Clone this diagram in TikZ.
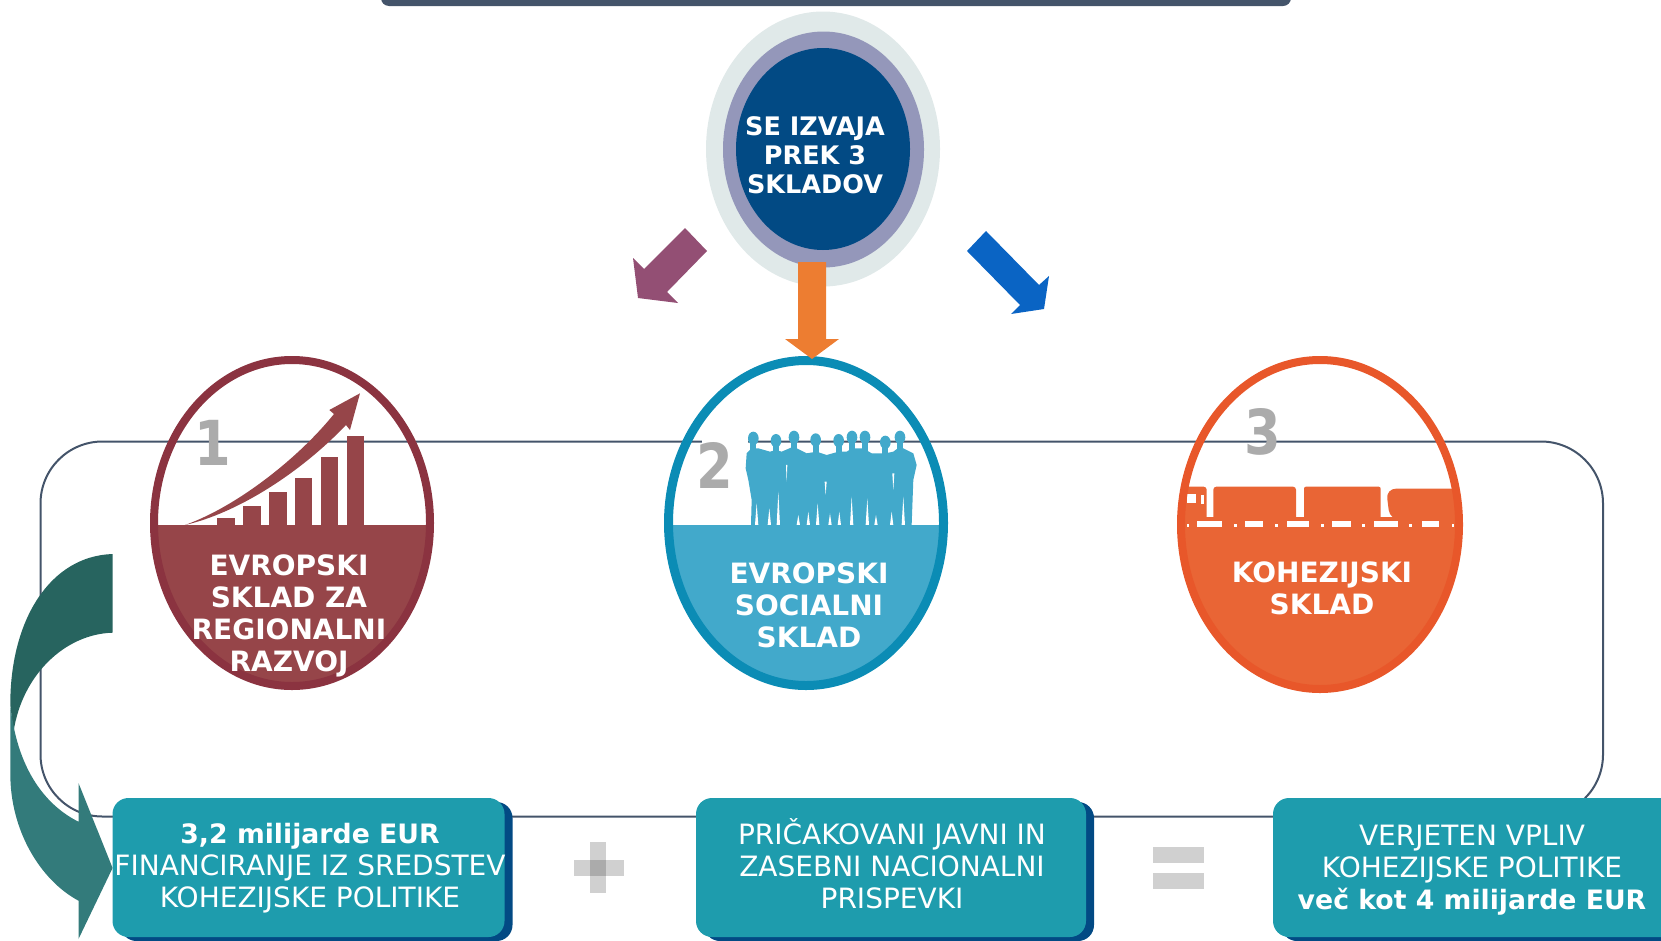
\documentclass[tikz,border=0pt]{standalone}
\usepackage{fontspec}
\setmainfont{DejaVu Sans}
\usetikzlibrary{shadows}
\definecolor{slateline}{HTML}{44546A}
\definecolor{haloouter}{HTML}{E0E9E9}
\definecolor{halomiddle}{HTML}{9497BA}
\definecolor{navyfill}{HTML}{024A84}
\definecolor{wineline}{HTML}{8B3340}
\definecolor{winefill}{HTML}{964549}
\definecolor{skyline}{HTML}{0B8CB5}
\definecolor{skyfill}{HTML}{42A9CB}
\definecolor{rustline}{HTML}{E8572A}
\definecolor{rustfill}{HTML}{E96535}
\definecolor{tealbox}{HTML}{1E9CAD}
\definecolor{numgray}{HTML}{ABABAB}
\definecolor{signgray}{HTML}{D0D0D0}
\definecolor{darkbend}{HTML}{27645F}
\definecolor{lightbend}{HTML}{337B7B}
\definecolor{plumarrow}{HTML}{934F74}
\definecolor{bluearrow}{HTML}{0A64C4}
\definecolor{orangearrow}{HTML}{ED7D31}
\tikzset{
    headtext/.style={text=white, align=center, font=\bfseries\fontsize{25.5}{29}\selectfont},
    fundtext/.style={text=white, align=center, font=\bfseries\fontsize{28}{32}\selectfont},
    sumtext/.style={text=white, align=center, font=\fontsize{28}{32}\selectfont},
    numtext/.style={text=numgray, xscale=0.85, transform shape, font=\bfseries\fontsize{62}{62}\selectfont},
    sumbox/.style={fill=tealbox, rounded corners=16pt, minimum height=139pt, inner sep=0pt,
        drop shadow={shadow xshift=8pt, shadow yshift=-4pt, fill=navyfill, opacity=1}}
}
\newcommand{\boldline}[1]{{\bfseries\fontsize{26.7}{32}\selectfont #1}}

\begin{document}
\begin{tikzpicture}[x=1pt, y=-1pt]
    \clip (0, 0) rectangle (1661, 940);

    \fill[slateline, rounded corners=8pt] (381, -20) rectangle (1291, 6);

    \draw[slateline, line width=2pt, rounded corners=62pt] (40.5, 441.5) rectangle (1603, 816.5);
    \fill[white] (702, 436) rectangle (748, 447);

    \fill[haloouter] (823, 149) ellipse (117 and 137.5);
    \fill[halomiddle] (823.5, 149.5) ellipse (100.5 and 118);
    \fill[navyfill] (823, 149) ellipse (87 and 101);
    \node[headtext] (headlabel) at (815, 155.5) {SE IZVAJA\\PREK 3\\SKLADOV};

    \fill[plumarrow] (685, 228) -- (707, 251) -- (667, 292) -- (678, 303)
        -- (638, 298) -- (633, 258) -- (644, 269) -- cycle;
    \fill[bluearrow] (986, 231) -- (967, 251) -- (1020, 305) -- (1011, 314)
        -- (1044, 309) -- (1049, 276) -- (1039, 285) -- cycle;

    % first fund
    \begin{scope}
        \clip (292, 523) ellipse (138 and 163);
        \fill[winefill] (140, 525) rectangle (440, 700);
    \end{scope}
    \draw[wineline, line width=8pt] (292, 523) ellipse (138 and 163);
    \begin{scope}[shift={(130, 340)}, x=0.3333pt, y=-0.3333pt]
        \foreach \barx/\bartop in {262/535, 340/498, 418/457, 494/415, 572/350, 650/288}
            \fill[winefill] (\barx, \bartop) rectangle ({\barx + 53}, 556);
        \fill[winefill] (165, 555) .. controls (320, 520) and (510, 400) .. (648, 255) -- (660, 270)
            -- (690, 160) -- (598, 210) -- (612, 222) .. controls (505, 355) and (320, 500) .. (165, 555) -- cycle;
    \end{scope}
    \node[numtext] (numone) at (213, 443) {1};
    \node[fundtext] (fundone) at (289, 615.5) {EVROPSKI\\SKLAD ZA\\REGIONALNI\\RAZVOJ};

    % second fund
    \begin{scope}
        \clip (806, 523) ellipse (137.5 and 162.5);
        \fill[skyfill] (660, 525) rectangle (950, 700);
    \end{scope}
    \draw[skyline, line width=9pt] (806, 523) ellipse (137.5 and 162.5);
    \begin{scope}[shift={(650, 340)}, x=0.3333pt, y=-0.3333pt]
        \foreach \headx/\heady in {310/295, 378/302, 432/292, 497/300, 566/302, 606/292, 645/292, 706/307, 750/292} {
            \fill[skyfill] (\headx, \heady) ellipse (16 and 20);
            \fill[skyfill] ({\headx - 9}, \heady) rectangle ({\headx + 9}, {\heady + 45});
        }
        \fill[skyfill] (303, 556) -- (305, 480) -- (295, 420) -- (287, 385) -- (290, 340) -- (305, 325) -- (325, 325)
            -- (360, 335) -- (378, 330) -- (395, 335) -- (430, 320) -- (470, 340) -- (500, 335) -- (530, 345)
            -- (566, 335) -- (590, 335) -- (606, 325) -- (640, 325) -- (665, 340) -- (706, 340) -- (730, 335)
            -- (750, 320) -- (790, 340) -- (800, 375) -- (790, 420) -- (785, 556) -- cycle;
        \foreach \gapx/\gaptop in {320/490, 358/505, 385/455, 445/525, 475/515, 503/490, 540/520, 568/515, 605/470, 652/475, 678/525, 725/515, 760/470}
            \fill[white] ({\gapx - 5}, 555) -- (\gapx, \gaptop) -- ({\gapx + 5}, 555) -- cycle;
        \fill[white] (408, 375) -- (412, 375) -- (410, 425) -- cycle;
        \fill[white] (524, 425) -- (530, 425) -- (527, 465) -- cycle;
        \fill[white] (727, 400) -- (733, 400) -- (730, 450) -- cycle;
    \end{scope}
    \node[numtext] (numtwo) at (715, 465) {2};
    \node[fundtext] (fundtwo) at (809, 605.5) {EVROPSKI\\SOCIALNI\\SKLAD};

    % third fund
    \begin{scope}
        \clip (1320, 524.5) ellipse (139 and 164.5);
        \fill[rustfill] (1170, 517) rectangle (1470, 700);
        \begin{scope}[shift={(1160, 340)}, x=0.3333pt, y=-0.3333pt]
            \fill[rustfill, rounded corners=3pt] (60, 440) rectangle (140, 540);
            \fill[rustfill, rounded corners=3pt] (160, 440) rectangle (408, 540);
            \fill[rustfill, rounded corners=2pt] (432, 440) rectangle (662, 540);
            \fill[rustfill, rounded corners=10pt] (690, 540) -- (678, 446) -- (950, 446) -- (950, 540) -- cycle;
            \fill[white] (82, 462) rectangle (107, 490);
            \fill[white] (124, 465) rectangle (132, 492);
            \foreach \dashx/\dashw in {112/73, 255/55, 380/68, 517/55, 642/73, 785/53}
                \fill[white] (\dashx, 543) rectangle ({\dashx + \dashw}, 562);
            \foreach \dotx in {80, 222, 345, 483, 607, 748, 875}
                \fill[white] (\dotx, 553) rectangle ({\dotx + 8}, 562);
        \end{scope}
    \end{scope}
    \draw[rustline, line width=8pt] (1320, 524.5) ellipse (139 and 164.5);
    \node[numtext] (numthree) at (1263, 432) {3};
    \node[fundtext] (fundthree) at (1322, 588) {KOHEZIJSKI\\SKLAD};

    \fill[orangearrow] (798, 262) -- (826, 262) -- (826, 339) -- (839, 339)
        -- (812, 359) -- (785, 339) -- (798, 339) -- cycle;

    % bent arrow on the left
    \fill[darkbend] (112.6, 554) .. controls (50, 556) and (10, 620) .. (10.3, 705) -- (13.5, 732)
        .. controls (22, 675) and (65, 634) .. (112.6, 632.7) -- cycle;
    \fill[lightbend] (10.3, 707) -- (10.3, 773) .. controls (10, 830) and (40, 880) .. (78.5, 900.7)
        -- (78.5, 939) -- (112.6, 868) -- (78.5, 783) -- (78.5, 821.7)
        .. controls (45, 805) and (20, 770) .. (12, 717) -- cycle;

    \node[sumbox, minimum width=392pt] (boxone) at (308.5, 867.5) {};
    \node[sumbox, minimum width=390pt] (boxtwo) at (891, 867.5) {};
    \node[sumbox, minimum width=420pt] (boxthree) at (1483, 867.5) {};

    \node[sumtext] (sumone) at (310, 868) {\boldline{3,2 milijarde EUR}\\FINANCIRANJE IZ SREDSTEV\\KOHEZIJSKE POLITIKE};
    \node[sumtext] (sumtwo) at (892, 864) {PRIČAKOVANI JAVNI IN\\ZASEBNI NACIONALNI\\PRISPEVKI};
    \node[sumtext] (sumthree) at (1472, 870) {VERJETEN VPLIV\\KOHEZIJSKE POLITIKE\\\boldline{več kot 4 milijarde EUR}};

    \fill[signgray] (574, 860) rectangle (624, 876);
    \fill[signgray] (590, 842) rectangle (606, 893);
    \fill[numgray] (590, 860) rectangle (606, 876);
    \fill[signgray] (1153, 847) rectangle (1204, 863);
    \fill[signgray] (1153, 873) rectangle (1204, 889);
\end{tikzpicture}
\end{document}
